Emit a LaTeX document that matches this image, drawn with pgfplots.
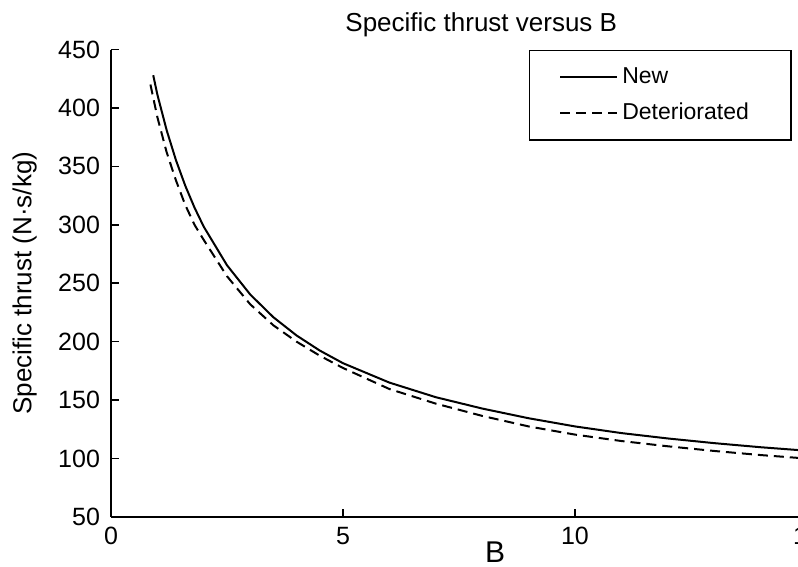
\documentclass[border=0pt]{standalone}
\usepackage{fontspec}
\setmainfont{Liberation Sans}
\usepackage{pgfplots}
\pgfplotsset{compat=1.18}

\newcommand{\tickfont}{\fontsize{12.5}{14}\selectfont}

\begin{document}
\begin{tikzpicture}
\begin{axis}[
    scale only axis,
    width=348pt, height=233.75pt,
    xmin=0, xmax=15, ymin=50, ymax=450,
    xtick={0,5,10,15}, ytick={50,100,...,450},
    axis lines=left,
    axis line style={-, line width=0.9pt},
    enlargelimits=false,
    tick align=inside,
    major tick length=4pt,
    tick style={line width=0.8pt, black},
    /pgf/number format/assume math mode=true,
    tick label style={font=\tickfont},
    yticklabel style={xshift=-2pt},
    xticklabel style={yshift=-1.5pt},
    title={Specific thrust versus B},
    title style={at={(axis description cs:0.532,1)}, anchor=base, yshift=3pt,
        font=\fontsize{13}{15}\selectfont},
    xlabel={B},
    xlabel style={at={(axis description cs:0.552,0)}, anchor=base, yshift=-23pt,
        font=\fontsize{15}{18}\selectfont},
    ylabel={Specific thrust (N·s/kg)},
    ylabel style={at={(axis description cs:-0.124,0.5)}, anchor=center,
        font=\fontsize{13}{15}\selectfont},
    legend style={at={(0.978,1)}, anchor=north east, draw=black, line width=0.8pt,
        font=\fontsize{11.5}{13}\selectfont, inner xsep=15pt, inner ysep=6.5pt,
        row sep=4.5pt},
    legend cell align={left},
    legend image code/.code={\draw[#1] (0cm,0cm) -- (1cm,0cm);},
]
% New engine
\addplot[black, line width=1pt] coordinates {
(0.91,428.0) (1.0,411.3) (1.2,380.9) (1.4,355.3) (1.6,333.5) (1.8,314.7)
(2.0,298.3) (2.5,265.4) (3.0,240.4) (3.5,220.9) (4.0,205.3) (4.5,192.4)
(5.0,181.6) (6.0,165.0) (7.0,152.5) (8.0,142.8) (9.0,134.5) (10.0,127.5)
(11.0,121.8) (12.0,117.2) (13.0,113.2) (14.0,109.7) (15.0,106.7)
};
\addlegendentry{New}
% deteriorated engine
\addplot[black, line width=1pt, dash pattern=on 5pt off 3pt] coordinates {
(0.85,420.0) (1.0,392.0) (1.2,362.0) (1.4,338.0) (1.6,317.0) (1.8,300.0)
(2.0,287.0) (2.5,256.0) (3.0,232.0) (3.5,214.0) (4.0,200.0) (4.5,188.0)
(5.0,177.5) (6.0,159.5) (7.0,147.0) (8.0,136.5) (9.0,127.5) (10.0,120.5)
(11.0,115.0) (12.0,110.5) (13.0,106.5) (14.0,103.0) (15.0,100.0)
};
\addlegendentry{Deteriorated\rule{4pt}{0pt}}
\end{axis}
% the scanned figure is cut just before B = 15
\pgfresetboundingbox
\path[use as bounding box]
    ([xshift=-55.5pt,yshift=-25pt]current axis.south west) rectangle
    ([xshift=343.5pt,yshift=24.75pt]current axis.north west);
\end{tikzpicture}
\end{document}
